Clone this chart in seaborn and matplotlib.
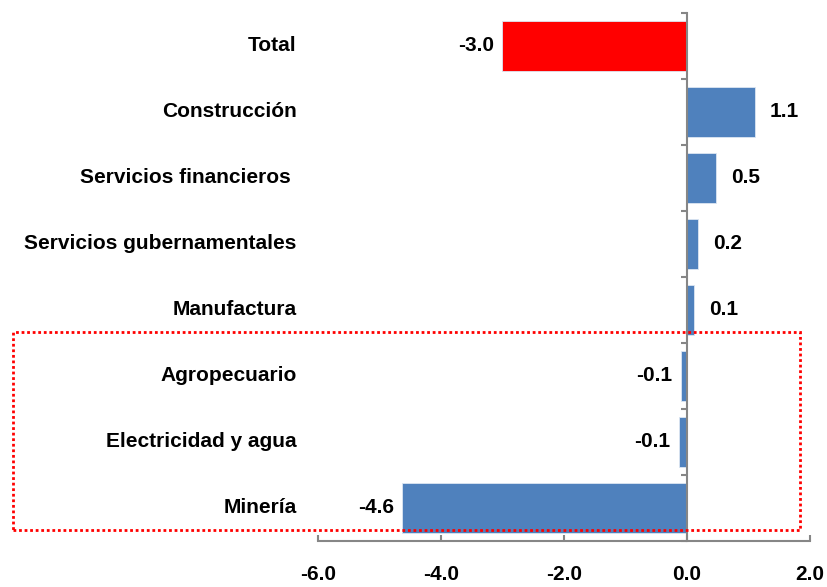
import numpy as np
import pandas as pd
import matplotlib
matplotlib.use("Agg")
import matplotlib.pyplot as plt
import seaborn as sns
from matplotlib.patches import Rectangle

# datos del gráfico
sectores = ["Total", "Construcción", "Servicios financieros ", "Servicios gubernamentales",
            "Manufactura", "Agropecuario", "Electricidad y agua", "Minería"]
valores = [-3.0, 1.1, 0.47, 0.18, 0.11, -0.10, -0.13, -4.63]
etiquetas = ["-3.0", "1.1", "0.5", "0.2", "0.1", "-0.1", "-0.1", "-4.6"]
xticks = [-6.0, -4.0, -2.0, 0.0, 2.0]

azul = "#4F81BD"
rojo = "#FF0000"
gris = "#868686"

sns.set_theme(style="white")
plt.rcParams["font.family"] = ["Liberation Sans", "DejaVu Sans"]
plt.rcParams["text.color"] = "black"
plt.rcParams["xtick.labelcolor"] = "black"

df = pd.DataFrame({"Sector": sectores, "Valor": valores})
colores = {s: (rojo if s == "Total" else azul) for s in sectores}

fig = plt.figure(figsize=(8.27, 5.87), dpi=100)
ax = fig.add_axes([0.3845, 0.0784, 0.9794 - 0.3845, 0.9779 - 0.0784])

sns.barplot(data=df, x="Valor", y="Sector", hue="Sector", palette=colores,
            orient="h", width=0.77, legend=False, ax=ax, saturation=1,
            edgecolor="#DCE6F2", linewidth=0.6)

ax.set_xlim(-6, 2)
ax.set_ylim(len(sectores) - 0.5, -0.5)
ax.set_xticks(xticks)
ax.set_xticklabels([f"{t:.1f}" for t in xticks], fontsize=15, fontweight="bold", color="black")
ax.set_xlabel("")
ax.set_ylabel("")

# eje vertical en cero, con marcas entre categorías
ax.spines["left"].set_position(("data", 0))
ax.spines["left"].set_color(gris)
ax.spines["left"].set_linewidth(1.5)
ax.spines["bottom"].set_color(gris)
ax.spines["bottom"].set_linewidth(1.5)
ax.spines["top"].set_visible(False)
ax.spines["right"].set_visible(False)
ax.set_yticks(np.arange(-0.5, len(sectores), 1.0))
ax.set_yticklabels([])
ax.tick_params(axis="y", direction="out", length=4, width=1.5, color=gris, left=True)
ax.tick_params(axis="x", direction="in", length=4, width=1.5, color=gris, bottom=True, pad=17)

# nombres de sectores a la izquierda
for i, s in enumerate(sectores):
    ax.text(-0.043, i, s, transform=ax.get_yaxis_transform(), ha="right", va="center",
            fontsize=15, fontweight="bold", color="black")

# etiquetas de valores
for i, (v, lab) in enumerate(zip(valores, etiquetas)):
    if v >= 0:
        ax.annotate(lab, (v, i), xytext=(11, 0), textcoords="offset points",
                    ha="left", va="center", fontsize=15, fontweight="bold", color="black")
    else:
        ax.annotate(lab, (v, i), xytext=(-6, 0), textcoords="offset points",
                    ha="right", va="center", fontsize=15, fontweight="bold", color="black")

# recuadro punteado rojo
fig.patches.append(Rectangle((0.0157, 0.0971), 0.967 - 0.0157, 0.4344 - 0.0971,
                             transform=fig.transFigure, fill=False, edgecolor=rojo,
                             linestyle=(0, (1, 1)), linewidth=2))

fig.savefig("out.png", dpi=100)
